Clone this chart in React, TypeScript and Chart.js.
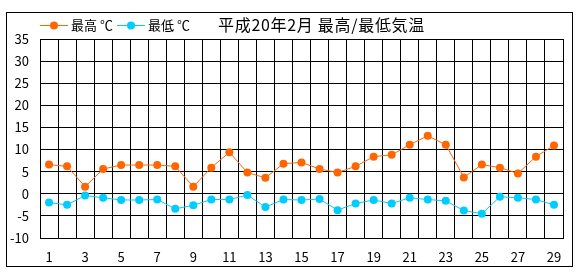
import React, { useEffect, useRef } from "react";
import { Chart, registerables } from "chart.js";
Chart.register(...registerables);

const days = ["1","2","3","4","5","6","7","8","9","10","11","12","13","14","15","16","17","18","19","20","21","22","23","24","25","26","27","28","29"];
const maxTemp = [6.6,6.2,1.6,5.6,6.5,6.5,6.5,6.2,1.6,5.9,9.4,4.8,3.6,6.8,7.1,5.6,4.8,6.2,8.4,8.8,11.1,13.1,11.1,3.7,6.6,5.9,4.6,8.4,10.9];
const minTemp = [-2.0,-2.5,-0.4,-0.9,-1.4,-1.4,-1.3,-3.4,-2.6,-1.3,-1.3,-0.3,-3.0,-1.3,-1.4,-1.2,-3.7,-2.2,-1.4,-2.2,-0.9,-1.3,-1.6,-3.8,-4.5,-0.7,-0.9,-1.3,-2.5];
const seriesNames = ["最高 ℃", "最低 ℃"];
const seriesColors = ["#FF6600", "#00CCFF"];
const titleText = "平成20年2月 最高/最低気温";
const FONT = "'Noto Sans CJK JP', 'DejaVu Sans', sans-serif";

const decorPlugin = {
  id: "decor",
  beforeDraw(chart: any) {
    const ctx = chart.ctx;
    ctx.save();
    ctx.fillStyle = "#ffffff";
    ctx.fillRect(0, 0, chart.width, chart.height);
    ctx.strokeStyle = "#000000";
    ctx.lineWidth = 1;
    ctx.strokeRect(6.5, 12.5, 566, 254);
    ctx.restore();
  },
  afterDraw(chart: any) {
    const ctx = chart.ctx;
    ctx.save();
    // legend
    const xs = [40, 117];
    const ly = 25.5;
    chart.data.datasets.forEach((ds: any, i: number) => {
      const x0 = xs[i];
      ctx.strokeStyle = ds.borderColor;
      ctx.lineWidth = 1;
      ctx.beginPath();
      ctx.moveTo(x0, ly);
      ctx.lineTo(x0 + 28, ly);
      ctx.stroke();
      ctx.fillStyle = ds.borderColor;
      ctx.beginPath();
      ctx.arc(x0 + 14, ly, 4, 0, Math.PI * 2);
      ctx.fill();
      ctx.fillStyle = "#000000";
      ctx.font = `13px ${FONT}`;
      ctx.textBaseline = "middle";
      ctx.textAlign = "left";
      ctx.fillText(ds.label, x0 + 31, ly);
    });
    // title
    ctx.fillStyle = "#000000";
    ctx.font = `16px ${FONT}`;
    ctx.textBaseline = "middle";
    ctx.textAlign = "left";
    try { (ctx as any).letterSpacing = "0.7px"; } catch (e) {}
    ctx.fillText(titleText, 218, 25);
    ctx.restore();
  },
};

export default function App() {
  const ref = useRef<HTMLCanvasElement>(null);
  useEffect(() => {
    if (!ref.current) return;
    const chart = new Chart(ref.current, {
      type: "line",
      data: {
        labels: days,
        datasets: [
          {
            label: seriesNames[0],
            data: maxTemp,
            borderColor: seriesColors[0],
            backgroundColor: seriesColors[0],
            borderWidth: 1,
            pointRadius: 4,
            pointBorderWidth: 0,
            pointBackgroundColor: seriesColors[0],
            tension: 0,
          },
          {
            label: seriesNames[1],
            data: minTemp,
            borderColor: seriesColors[1],
            backgroundColor: seriesColors[1],
            borderWidth: 1,
            pointRadius: 4,
            pointBorderWidth: 0,
            pointBackgroundColor: seriesColors[1],
            tension: 0,
          },
        ],
      },
      options: {
        responsive: false,
        animation: false,
        events: [],
        layout: { padding: { top: 39, right: 17, bottom: 0, left: 0 } },
        plugins: {
          legend: { display: false },
          title: { display: false },
          tooltip: { enabled: false },
        },
        scales: {
          x: {
            type: "category",
            offset: true,
            grid: { offset: true, color: "#000000", lineWidth: 1, drawTicks: false },
            border: { color: "#000000", width: 1 },
            ticks: {
              autoSkip: false,
              maxRotation: 0,
              minRotation: 0,
              padding: 11,
              color: "#000000",
              font: { family: FONT, size: 13 },
              callback: function (this: any, _v: any, i: number) {
                return i % 2 === 0 ? days[i] : "";
              },
            },
            afterFit: (s: any) => { s.height = 42; },
          },
          y: {
            min: -10,
            max: 35,
            grid: { color: "#000000", lineWidth: 1, drawTicks: false },
            border: { color: "#000000", width: 1 },
            ticks: {
              stepSize: 5,
              padding: 11,
              color: "#000000",
              font: { family: FONT, size: 13 },
            },
            afterFit: (s: any) => { s.width = 40; },
          },
        },
      },
      plugins: [decorPlugin],
    });
    return () => chart.destroy();
  }, []);
  return (
    <div style={{ position: "absolute", left: 0, top: 0, width: 580, height: 280 }}>
      <canvas ref={ref} width={580} height={280} style={{ display: "block" }} />
    </div>
  );
}
